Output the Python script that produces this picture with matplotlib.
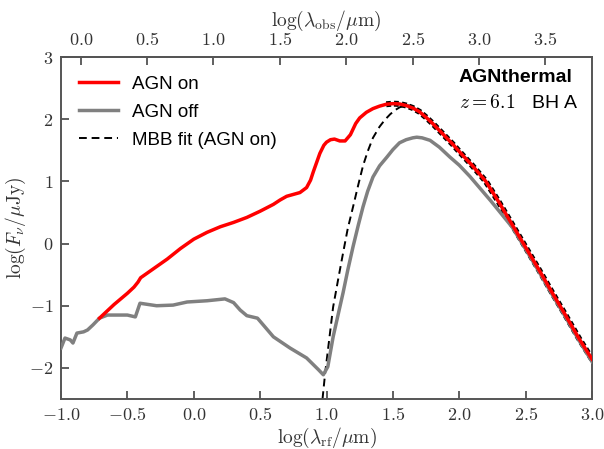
import numpy as np
import matplotlib
matplotlib.use("Agg")
import matplotlib.pyplot as plt
from matplotlib.ticker import FuncFormatter, MultipleLocator, FixedLocator

plt.rcParams['mathtext.fontset'] = 'cm'
plt.rcParams['font.family'] = ['Liberation Sans', 'DejaVu Sans']

# --- data (log lambda_rf [um], log F_nu [uJy]) ---
# AGN-on curve (below -0.71 it coincides with the AGN-off curve)
agn_on_x = [-0.71, -0.65, -0.6, -0.5, -0.45, -0.42, -0.4,
            -0.3, -0.2, -0.1, 0.0, 0.1, 0.2, 0.3, 0.4, 0.5, 0.6, 0.65, 0.7, 0.75, 0.8, 0.85,
            0.88, 0.9, 0.93, 0.95, 0.98, 1.0, 1.03, 1.06, 1.1, 1.14, 1.18, 1.22, 1.25, 1.3,
            1.35, 1.4, 1.45, 1.5, 1.55, 1.6, 1.65, 1.7, 1.75, 1.8, 1.85, 1.9, 1.95, 2.0, 2.1,
            2.2, 2.3, 2.4, 2.5, 2.6, 2.7, 2.8, 2.9, 3.0]
agn_on_y = [-1.20, -1.08, -0.98, -0.80, -0.70, -0.62, -0.55,
            -0.40, -0.25, -0.08, 0.07, 0.18, 0.27, 0.34, 0.42, 0.52, 0.63, 0.70, 0.76, 0.79, 0.82, 0.90,
            1.02, 1.15, 1.33, 1.45, 1.58, 1.63, 1.67, 1.68, 1.65, 1.65, 1.75, 1.93, 2.02, 2.11,
            2.17, 2.21, 2.24, 2.25, 2.245, 2.22, 2.18, 2.12, 2.03, 1.93, 1.82, 1.71, 1.60, 1.48, 1.25,
            1.00, 0.66, 0.30, -0.06, -0.42, -0.79, -1.15, -1.52, -1.86]

agn_off_x = [-1.0, -0.97, -0.93, -0.91, -0.88, -0.83, -0.80, -0.76, -0.71, -0.65, -0.58, -0.50,
             -0.44, -0.405, -0.28, -0.156, -0.05, 0.10, 0.235, 0.30, 0.35, 0.40, 0.48, 0.60,
             0.725, 0.85, 0.94, 0.976, 1.01, 1.05, 1.09, 1.125, 1.16, 1.20, 1.24, 1.275, 1.31,
             1.35, 1.40, 1.455, 1.50, 1.55, 1.60, 1.65, 1.68, 1.72, 1.78, 1.85, 1.93, 2.0, 2.08,
             2.16, 2.24, 2.32, 2.4, 2.5, 2.6, 2.7, 2.8, 2.9, 3.0]
agn_off_y = [-1.68, -1.52, -1.55, -1.60, -1.44, -1.42, -1.39, -1.31, -1.20, -1.15, -1.15, -1.15,
             -1.18, -0.96, -1.00, -0.99, -0.94, -0.92, -0.89, -0.95, -1.07, -1.16, -1.20, -1.50,
             -1.68, -1.84, -2.03, -2.11, -1.98, -1.50, -1.12, -0.79, -0.43, -0.05, 0.30, 0.59, 0.84,
             1.07, 1.25, 1.39, 1.51, 1.62, 1.67, 1.70, 1.71, 1.70, 1.66, 1.55, 1.39, 1.26, 1.08,
             0.88, 0.68, 0.47, 0.26, -0.09, -0.45, -0.82, -1.18, -1.55, -1.90]

mbb_x = [0.97, 0.99, 1.02, 1.05, 1.09, 1.125, 1.16, 1.2, 1.24, 1.275, 1.31, 1.35, 1.40, 1.44,
         1.48, 1.52, 1.55, 1.59, 1.63, 1.67, 1.7, 1.75, 1.8, 1.85, 1.9, 1.95,
         2.0, 2.1, 2.2, 2.3, 2.4, 2.5, 2.6, 2.7, 2.8, 2.9, 3.0]
mbb_y = [-2.5, -2.08, -1.55, -1.02, -0.55, -0.15, 0.24, 0.59, 0.95, 1.25, 1.48, 1.70, 1.88, 1.99,
         2.08, 2.15, 2.19, 2.22, 2.22, 2.17, 2.12, 2.03, 1.93, 1.82, 1.71, 1.60,
         1.48, 1.25, 1.00, 0.66, 0.30, -0.06, -0.42, -0.79, -1.15, -1.52, -1.86]

# fitted photometry points under the red curve (tail)
fit_x = [1.45, 1.5, 1.55, 1.6, 1.65, 1.7, 1.75, 1.8, 1.85, 1.9, 1.95, 2.0, 2.1, 2.2, 2.3, 2.4,
         2.5, 2.6, 2.7, 2.8, 2.9, 3.0]
fit_y = [2.24, 2.25, 2.245, 2.22, 2.18, 2.12, 2.03, 1.93, 1.82, 1.71, 1.60, 1.48, 1.25, 1.00,
         0.66, 0.30, -0.06, -0.42, -0.79, -1.15, -1.52, -1.86]

obs_ticks = [0.0, 0.5, 1.0, 1.5, 2.0, 2.5, 3.0, 3.5]

z = 6.1
dlog = np.log10(1 + z)

fig = plt.figure(figsize=(6.04, 4.49), dpi=100)
ax = fig.add_axes([61/604, 1-399/449, (592-61)/604, (399-57)/449])

ax.plot(fit_x, fit_y, color='black', lw=4.3, ls=(0, (0.8, 0.5)), zorder=1)
ax.plot(mbb_x, mbb_y, color='black', lw=1.4, ls=(0, (4, 2.5)), label='MBB fit (AGN on)', zorder=2)
ax.plot(agn_off_x, agn_off_y, color='grey', lw=2.5, label='AGN off', zorder=3)
ax.plot(agn_on_x, agn_on_y, color='red', lw=2.5, label='AGN on', zorder=4)

ax.set_xlim(-1.0, 3.0)
ax.set_ylim(-2.5, 3.0)
ax.xaxis.set_major_locator(MultipleLocator(0.5))
ax.yaxis.set_major_locator(MultipleLocator(1))
ax.xaxis.set_major_formatter(FuncFormatter(lambda v, p: f'${v:.1f}$'))
ax.yaxis.set_major_formatter(FuncFormatter(lambda v, p: f'${v:.0f}$'))
ax.tick_params(direction='in', length=6, width=1.2, labelsize=13, color='#444444', labelcolor='#333333')
ax.tick_params(axis='x', pad=6)
ax.tick_params(axis='y', pad=5.5)
for s in ax.spines.values():
    s.set_color('#555555')
    s.set_linewidth(1.4)

ax.set_xlabel(r'$\log(\lambda_{\rm rf}/\mu{\rm m})$', fontsize=14, color='#333333', labelpad=1)
ax.set_ylabel(r'$\log(F_\nu/\mu{\rm Jy})$', fontsize=14, color='#333333', labelpad=1)

sec = ax.secondary_xaxis('top', functions=(lambda x: x + dlog, lambda x: x - dlog))
sec.xaxis.set_major_locator(FixedLocator(obs_ticks))
sec.xaxis.set_major_formatter(FuncFormatter(lambda v, p: f'${v:.1f}$'))
sec.tick_params(direction='in', length=6, width=1.2, labelsize=13, color='#444444', labelcolor='#333333', pad=6)
sec.set_xlabel(r'$\log(\lambda_{\rm obs}/\mu{\rm m})$', fontsize=14, color='#333333', labelpad=4)
sec.spines['top'].set_color('#555555')
sec.spines['top'].set_linewidth(1.4)

h, l = ax.get_legend_handles_labels()
order = [2, 1, 0]
leg = ax.legend([h[i] for i in order], [l[i] for i in order], loc='upper left',
                bbox_to_anchor=(0.02, 0.967), borderaxespad=0.0, frameon=False,
                fontsize=13.5, handlelength=2.1, labelspacing=0.58, handletextpad=0.7)

ax.text(0.964, 0.9415, 'AGNthermal', transform=ax.transAxes, ha='right', va='center',
        fontsize=14, fontweight='bold', color='black')
ax.text(0.975, 0.8655, r'$z = 6.1$   BH A', transform=ax.transAxes, ha='right', va='center',
        fontsize=14, color='black')

fig.savefig('out.png', dpi=100)
